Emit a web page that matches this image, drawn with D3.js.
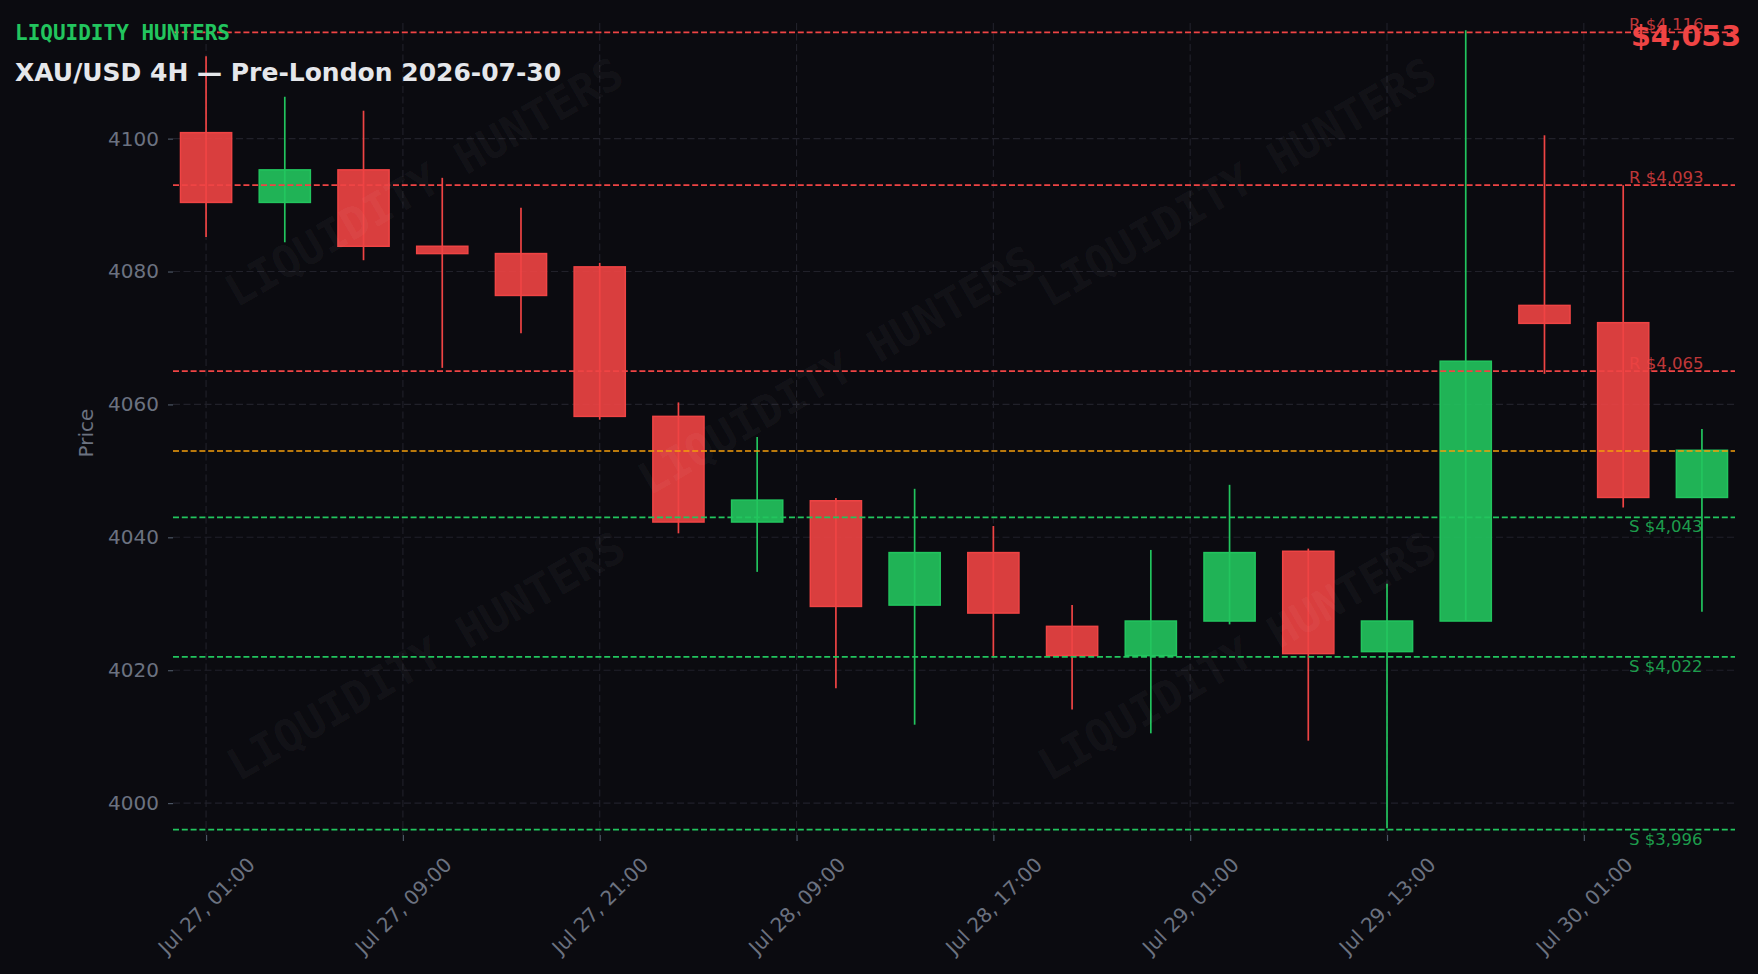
<!DOCTYPE html>
<html>
<head>
<meta charset="utf-8">
<script src="https://cdn.jsdelivr.net/npm/d3@7"></script>
<style>
html,body{margin:0;padding:0;background:#0b0b10;}
svg{display:block;}
</style>
</head>
<body>
<svg id="chart" width="1758" height="974"></svg>
<script>
// ---- data ----
const opens  = [4100.9, 4090.4, 4095.3, 4083.8, 4082.7, 4080.7, 4058.2, 4042.3, 4045.5, 4029.8, 4037.7, 4026.6, 4022.2, 4027.4, 4037.9, 4022.8, 4027.4, 4074.9, 4072.3, 4046.0];
const closes = [4090.4, 4095.3, 4083.8, 4082.7, 4076.4, 4058.2, 4042.3, 4045.6, 4029.6, 4037.7, 4028.6, 4022.2, 4027.4, 4037.7, 4022.5, 4027.4, 4066.5, 4072.2, 4046.0, 4053.1];
const highs  = [4112.4, 4106.3, 4104.2, 4094.1, 4089.6, 4081.3, 4060.3, 4055.1, 4045.9, 4047.3, 4041.7, 4029.8, 4038.1, 4047.9, 4038.3, 4033.0, 4116.3, 4100.5, 4093.0, 4056.3];
const lows   = [4085.2, 4084.4, 4081.7, 4065.5, 4070.7, 4057.7, 4040.6, 4034.8, 4017.3, 4011.8, 4021.9, 4014.1, 4010.5, 4026.9, 4009.4, 3996.2, 4027.4, 4064.6, 4044.5, 4028.8];
const xTickPos    = [0, 2.5, 5, 7.5, 10, 12.5, 15, 17.5];
const xTickLabels = ["Jul 27, 01:00", "Jul 27, 09:00", "Jul 27, 21:00", "Jul 28, 09:00", "Jul 28, 17:00", "Jul 29, 01:00", "Jul 29, 13:00", "Jul 30, 01:00"];
const yTicks = [4000, 4020, 4040, 4060, 4080, 4100];
const resistance = [4116, 4093, 4065];
const support = [4043, 4022, 3996];
const currentPrice = 4053;
const brand = "LIQUIDITY HUNTERS";
const title = "XAU/USD 4H — Pre-London 2026-07-30";

// ---- layout ----
const RED = "#ef4444", GREEN = "#22c55e", ORANGE = "#f59e0b", GRAY = "#6b7280";
const pL = 173, pR = 1735, pT = 23, pB = 835;
const svg = d3.select("#chart");
svg.append("rect").attr("width", 1758).attr("height", 974).attr("fill", "#0b0b10");

const x = d3.scaleLinear().domain([-0.42, 19.42]).range([pL, pR]);
const y = d3.scaleLinear().domain([3995.2, 4117.4]).range([pB, pT]);

// grid
const grid = svg.append("g");
grid.selectAll(".hg").data(yTicks).join("line")
  .attr("x1", pL).attr("x2", pR)
  .attr("y1", d => y(d)).attr("y2", d => y(d))
  .attr("stroke", "#21212a").attr("stroke-width", 1.1).attr("stroke-dasharray", "7,3.5");
grid.selectAll(".vg").data(xTickPos).join("line")
  .attr("x1", d => x(d)).attr("x2", d => x(d))
  .attr("y1", pT).attr("y2", pB)
  .attr("stroke", "#21212a").attr("stroke-width", 1.1).attr("stroke-dasharray", "7,3.5");

// axes
const yAxis = d3.axisLeft(y).tickValues(yTicks).tickSize(5).tickPadding(9).tickFormat(d3.format("d"));
const gy = svg.append("g").attr("transform", `translate(${pL},0)`).call(yAxis);
gy.select(".domain").remove();
gy.selectAll(".tick line").attr("stroke", "#4b5563").attr("stroke-width", 1.2);
gy.selectAll(".tick text").attr("fill", GRAY).style("font-family", "DejaVu Sans").style("font-size", "20px");

const xAxis = d3.axisBottom(x).tickValues(xTickPos).tickSize(6).tickFormat((d, i) => xTickLabels[i]);
const gx = svg.append("g").attr("transform", `translate(0,${pB})`).call(xAxis);
gx.select(".domain").remove();
gx.selectAll(".tick line").attr("stroke", "#4b5563").attr("stroke-width", 1.2);
gx.selectAll(".tick text")
  .attr("fill", GRAY).style("font-family", "DejaVu Sans").style("font-size", "20px")
  .attr("text-anchor", "middle").attr("dominant-baseline", "central")
  .attr("dy", null)
  .each(function() {
    const L = this.getComputedTextLength();
    const half = (L + 0.73 * 20) * 0.7071 / 2;
    d3.select(this).attr("y", 0).attr("transform", `translate(0,${856 - pB + half}) rotate(-45)`);
  });

svg.append("text").text("Price")
  .attr("transform", `translate(93,433) rotate(-90)`)
  .attr("text-anchor", "middle").attr("fill", GRAY)
  .style("font-family", "DejaVu Sans").style("font-size", "20px");

// candles
const idx = d3.range(opens.length);
const bw = 0.65;
const cg = svg.append("g");
cg.selectAll(".wick").data(idx).join("line")
  .attr("x1", i => x(i)).attr("x2", i => x(i))
  .attr("y1", i => y(highs[i])).attr("y2", i => y(lows[i]))
  .attr("stroke", i => closes[i] >= opens[i] ? GREEN : RED).attr("stroke-width", 1.7);
cg.selectAll(".body").data(idx).join("rect")
  .attr("x", i => x(i - bw / 2)).attr("width", x(bw) - x(0))
  .attr("y", i => y(Math.max(opens[i], closes[i])))
  .attr("height", i => Math.max(1, y(Math.min(opens[i], closes[i])) - y(Math.max(opens[i], closes[i]))))
  .attr("fill", i => closes[i] >= opens[i] ? GREEN : RED).attr("fill-opacity", 0.9)
  .attr("stroke", i => closes[i] >= opens[i] ? GREEN : RED).attr("stroke-width", 1.5);

// watermarks
const wm = [[424, 182], [837, 370], [1237, 182], [426, 656], [1237, 656]];
svg.append("g").selectAll("text").data(wm).join("text")
  .text(brand)
  .attr("transform", d => `translate(${d[0]},${d[1]}) rotate(-30)`)
  .attr("text-anchor", "middle").attr("dominant-baseline", "central")
  .attr("fill", "#ffffff").attr("fill-opacity", 0.05)
  .style("font-family", "DejaVu Sans Mono").style("font-weight", "bold").style("font-size", "44px");

// levels
const fmt = d3.format(",");
const lv = svg.append("g");
const levels = resistance.map(v => ({v, c: RED, t: "R $" + fmt(v), up: true}))
  .concat(support.map(v => ({v, c: GREEN, t: "S $" + fmt(v), up: false})));
lv.selectAll(".lvl").data(levels).join("line")
  .attr("x1", pL).attr("x2", pR).attr("y1", d => y(d.v)).attr("y2", d => y(d.v))
  .attr("stroke", d => d.c).attr("stroke-width", 1.8).attr("stroke-dasharray", "6,2.8");
lv.append("line")
  .attr("x1", pL).attr("x2", pR).attr("y1", y(currentPrice)).attr("y2", y(currentPrice))
  .attr("stroke", ORANGE).attr("stroke-width", 1.6).attr("stroke-dasharray", "6,2.8");
lv.selectAll(".lbl").data(levels).join("text")
  .text(d => d.t)
  .attr("x", 1629).attr("y", d => d.up ? y(d.v) - 2.5 : y(d.v) + 15)
  .attr("fill", d => d.c).attr("fill-opacity", 0.8)
  .style("font-family", "DejaVu Sans").style("font-size", "16.5px");

// titles
svg.append("text").text(brand).attr("x", 15).attr("y", 40)
  .attr("fill", GREEN).style("font-family", "DejaVu Sans Mono").style("font-weight", "bold").style("font-size", "21px");
svg.append("text").text(title).attr("x", 15).attr("y", 81)
  .attr("fill", "#e5e7eb").style("font-family", "DejaVu Sans").style("font-weight", "bold").style("font-size", "25px");
svg.append("text").text("$" + fmt(currentPrice)).attr("x", 1741).attr("y", 46)
  .attr("text-anchor", "end")
  .attr("fill", RED).style("font-family", "DejaVu Sans").style("font-weight", "bold").style("font-size", "28.5px");
</script>
</body>
</html>
